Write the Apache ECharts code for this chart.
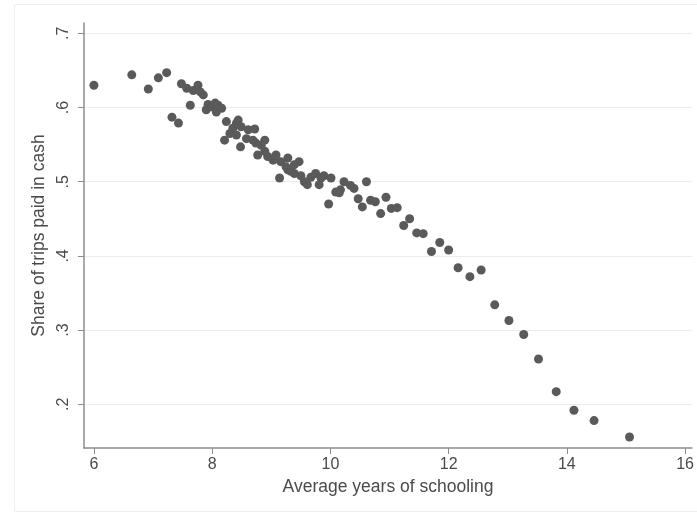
<!DOCTYPE html>
<html>
<head>
<meta charset="utf-8">
<script src="https://cdn.jsdelivr.net/npm/echarts@6/dist/echarts.min.js"></script>
<style>
html,body{margin:0;padding:0;background:#fff;}
#c{width:697px;height:513px;}
</style>
</head>
<body>
<div id="c"></div>
<script>
// Average years of schooling (x) and share of trips paid in cash (y)
var schooling = [
  6.00, 6.64, 6.92, 7.09, 7.23, 7.32, 7.43, 7.48,
  7.57, 7.63, 7.68, 7.76, 7.80, 7.85, 7.90, 7.93, 7.99, 8.05, 8.07, 8.10, 8.16,
  8.21, 8.24, 8.30, 8.35, 8.41, 8.44, 8.41, 8.48, 8.49, 8.58, 8.61, 8.69, 8.72, 8.74,
  8.77, 8.83, 8.89, 8.89, 8.94, 9.03, 9.08, 9.16, 9.14, 9.28, 9.25, 9.28, 9.33, 9.39, 9.39,
  9.47, 9.50, 9.56, 9.61, 9.67, 9.75, 9.81, 9.84, 9.89, 9.97, 10.01, 10.09, 10.15, 10.17, 10.23,
  10.34, 10.40, 10.47, 10.54, 10.61, 10.68, 10.76, 10.85, 10.94, 11.03, 11.13, 11.24, 11.34,
  11.46, 11.57, 11.71, 11.85, 12.00,
  12.16, 12.36, 12.55, 12.78, 13.02, 13.27, 13.52, 13.82, 14.12, 14.46, 15.06
];
var cashShare = [
  0.630, 0.644, 0.625, 0.640, 0.647, 0.587, 0.579, 0.632,
  0.626, 0.603, 0.623, 0.630, 0.621, 0.617, 0.597, 0.604, 0.601, 0.606, 0.594, 0.603, 0.599,
  0.556, 0.581, 0.565, 0.572, 0.579, 0.583, 0.563, 0.547, 0.574, 0.558, 0.570, 0.556, 0.571, 0.552,
  0.536, 0.549, 0.556, 0.541, 0.534, 0.529, 0.536, 0.527, 0.505, 0.532, 0.520, 0.516, 0.514, 0.523, 0.511,
  0.527, 0.508, 0.500, 0.496, 0.506, 0.511, 0.496, 0.505, 0.508, 0.470, 0.505, 0.486, 0.485, 0.489, 0.500,
  0.495, 0.491, 0.477, 0.466, 0.500, 0.475, 0.473, 0.457, 0.479, 0.464, 0.465, 0.441, 0.450,
  0.431, 0.430, 0.406, 0.418, 0.408,
  0.384, 0.372, 0.381, 0.334, 0.313, 0.294, 0.261, 0.217, 0.192, 0.178, 0.156
];
var xTicks = [6, 8, 10, 12, 14, 16];
var yTicks = [0.2, 0.3, 0.4, 0.5, 0.6, 0.7];

var points = schooling.map(function (x, i) { return [x, cashShare[i]]; });

var chart = echarts.init(document.getElementById('c'), null, {renderer: 'canvas'});
var axisColor = '#8c8c8c';
var textColor = '#4a4a4a';
var fontFam = 'Liberation Sans, Arial, Helvetica, sans-serif';
chart.setOption({
  animation: false,
  backgroundColor: '#ffffff',
  graphic: [{
    type: 'rect',
    shape: {x: 14.5, y: 4.5, width: 700, height: 507},
    style: {fill: 'none', stroke: '#eeeeee', lineWidth: 1},
    silent: true, z: -10
  }],
  grid: {left: 84, right: 0, top: 23, bottom: 65, containLabel: false},
  xAxis: {
    type: 'value',
    min: 5.832, max: 16.117,
    name: 'Average years of schooling',
    nameLocation: 'middle',
    nameGap: 30,
    nameTextStyle: {fontSize: 17.5, color: textColor, fontFamily: fontFam},
    axisLine: {show: true, onZero: false, lineStyle: {color: axisColor, width: 1.5}},
    axisTick: {show: true, length: 6, customValues: xTicks, lineStyle: {color: axisColor, width: 1}},
    axisLabel: {customValues: xTicks, fontSize: 16, color: textColor, fontFamily: fontFam, margin: 9},
    splitLine: {show: false}
  },
  yAxis: {
    type: 'value',
    min: 0.1411, max: 0.7139,
    name: 'Share of trips paid in cash',
    nameLocation: 'middle',
    nameRotate: 90,
    nameGap: 30,
    nameTextStyle: {fontSize: 17.5, color: textColor, fontFamily: fontFam},
    axisLine: {show: true, onZero: false, lineStyle: {color: axisColor, width: 1.5}},
    axisTick: {show: true, length: 6, customValues: yTicks, lineStyle: {color: axisColor, width: 1}},
    axisLabel: {
      customValues: yTicks, rotate: 90, fontSize: 16, color: textColor, fontFamily: fontFam, margin: 12,
      formatter: function (v) { return (Math.round(v * 10) / 10).toFixed(1).replace(/^0/, ''); }
    },
    splitLine: {show: true, lineStyle: {color: '#ececec', width: 1}}
  },
  series: [{
    type: 'scatter',
    data: points,
    symbol: 'circle',
    symbolSize: 9,
    itemStyle: {color: '#5a5a5a', opacity: 1},
    silent: true
  }]
});
</script>
</body>
</html>
